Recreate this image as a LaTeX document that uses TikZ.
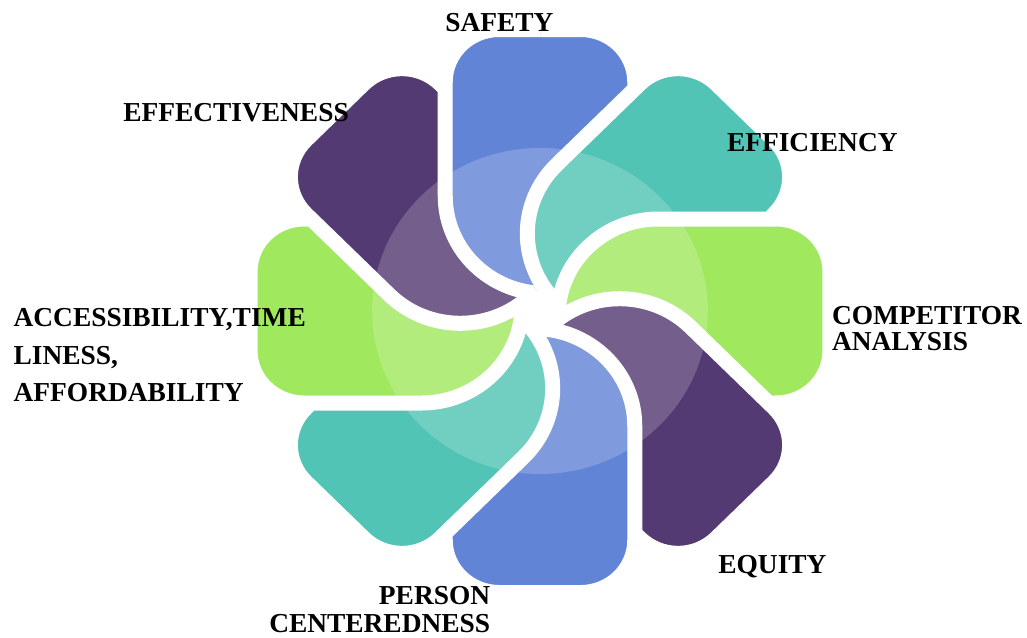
\documentclass[tikz,border=0pt]{standalone}
\usepackage{fontspec}
\setmainfont{Liberation Serif}
\usepackage{tikz}
\usetikzlibrary{positioning}

\definecolor{petalblue}{RGB}{98,132,214}
\definecolor{petalteal}{RGB}{81,196,181}
\definecolor{petalgreen}{RGB}{160,232,94}
\definecolor{petalpurple}{RGB}{84,58,114}

% one petal, pointing up, turned by #1
\newcommand{\petal}[2]{%
  \begin{scope}[rotate=#1]
    \fill[#2] (-3,17.87) arc[start angle=265, end angle=180, radius=97.5]
      -- (-92,229) arc[start angle=180, end angle=90, radius=52.5]
      -- (39.5,281.5) arc[start angle=90, end angle=0, radius=52.5]
      -- (92,225.6) -- (14.49,148.11)
      arc[start angle=135, end angle=210, radius=100] -- cycle;
    \draw[gap] (5.5,17.5) arc[start angle=270, end angle=180, radius=97.5]
      -- (-92,229) arc[start angle=180, end angle=90, radius=52.5]
      -- (39.5,281.5) arc[start angle=90, end angle=0, radius=52.5]
      -- (92,225.6);
  \end{scope}}

\begin{document}
\begin{tikzpicture}[
    x=0.02cm, y=0.02cm,
    gap/.style={draw=white, line width=0.3cm},
    lbl/.style={font=\fontsize{15.6}{18.7}\selectfont\bfseries,
                inner sep=0pt, align=left, text=black},
  ]
  \useasboundingbox (-540,-326) rectangle (487,311);

  % === Petals ===
  \begin{scope}[xscale=1.03]
    \foreach \ang/\col in {0/petalblue, -45/petalteal, -90/petalgreen,
        -135/petalpurple, 180/petalblue, 135/petalteal,
        90/petalgreen, 45/petalpurple} {
      \petal{\ang}{\col}
    }

    % top petal again over the last one
    \begin{scope}
      \clip (0,0) -- (0,15.25) arc[start angle=216.1, end angle=143.9, radius=105.5]
        -- (0,320) -- (-130,320) -- (-130,0) -- cycle;
      \petal{0}{petalblue}
    \end{scope}

    % === Centre disc ===
    \fill[white, opacity=0.19] (0,0) circle[radius=163];
  \end{scope}

  % === Labels ===
  \node[lbl, anchor=north west] (safety) at (-95,297.7) {SAFETY};
  \node[lbl, anchor=north west] (effic) at (186.7,178) {EFFICIENCY};
  \node[lbl, anchor=north west] (effect) at (-417,208) {EFFECTIVENESS};
  \node[lbl, anchor=north west, font=\fontsize{15.6}{14.8}\selectfont\bfseries]
    (comp) at (291.7,5.5) {COMPETITOR\\ANALYSIS};
  \node[lbl, anchor=north west, font=\fontsize{15.6}{21.3}\selectfont\bfseries]
    (access) at (-526.7,2.7) {ACCESSIBILITY,TIME\\LINESS,\\AFFORDABILITY};
  \node[lbl, anchor=north west] (equity) at (178,-244) {EQUITY};
  \node[lbl, anchor=north east, align=right, font=\fontsize{15.6}{15.6}\selectfont\bfseries]
    (person) at (-49.5,-275.2) {PERSON\\CENTEREDNESS};

\end{tikzpicture}
\end{document}
